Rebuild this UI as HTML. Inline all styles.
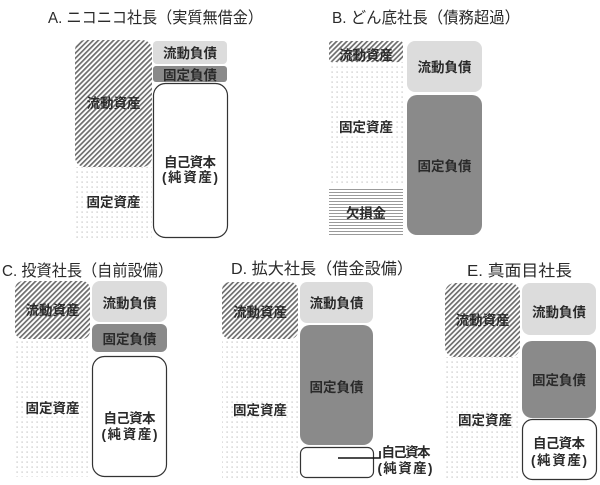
<!DOCTYPE html>
<html><head><meta charset="utf-8">
<style>
html,body{margin:0;padding:0;background:#fff;}
svg{display:block;}
text{font-family:"Liberation Sans","Noto Sans CJK JP",sans-serif;fill:#2a2a2a;}
.t{font-size:16px;}
.l{font-size:13.5px;font-weight:bold;text-anchor:middle;}
</style></head>
<body>
<svg width="600" height="485" viewBox="0 0 600 485" xmlns="http://www.w3.org/2000/svg">
<defs>
<pattern id="hatch" width="3.6" height="3.6" patternUnits="userSpaceOnUse" patternTransform="rotate(45)">
<rect width="3.6" height="3.6" fill="#fff"/>
<rect x="0" y="0" width="1.7" height="3.6" fill="#6e6e6e"/>
</pattern>
<pattern id="dots" width="5" height="5" patternUnits="userSpaceOnUse">
<rect width="5" height="5" fill="#fff"/>
<rect x="1.5" y="1.5" width="1.2" height="1.2" fill="#bdbdbd"/>
</pattern>
<pattern id="hl" width="3" height="3" patternUnits="userSpaceOnUse">
<rect width="3" height="3" fill="#fff"/>
<rect x="0" y="0" width="3" height="1" fill="#9a9a9a"/>
</pattern>
</defs>

<!-- Panel A -->
<text class="t" x="48" y="23" textLength="215" lengthAdjust="spacingAndGlyphs">A. ニコニコ社長（実質無借金）</text>
<rect x="75" y="167" width="77" height="71" fill="url(#dots)"/>
<rect x="75" y="40" width="77" height="127" rx="10" fill="url(#hatch)"/>
<rect x="153" y="41" width="74" height="23" rx="4" fill="#dcdcdc"/>
<rect x="153" y="66" width="74" height="16" rx="3" fill="#8a8a8a"/>
<rect x="153.5" y="83.5" width="74" height="154" rx="12" fill="#fff" stroke="#333" stroke-width="1.2"/>
<text class="l" x="113.5" y="108" textLength="54">流動資産</text>
<text class="l" x="113.5" y="207" textLength="54">固定資産</text>
<text class="l" x="190" y="58" textLength="54">流動負債</text>
<text class="l" x="190" y="80" textLength="54">固定負債</text>
<text class="l" x="190" y="167" textLength="52">自己資本</text>
<text class="l" x="190" y="182" textLength="56">(純資産)</text>

<!-- Panel B -->
<text class="t" x="332" y="23" textLength="188" lengthAdjust="spacingAndGlyphs">B. どん底社長（債務超過）</text>
<rect x="329" y="62" width="74" height="123" fill="url(#dots)"/>
<rect x="329" y="41" width="74" height="21" rx="3" fill="url(#hatch)"/>
<rect x="329" y="187" width="74" height="50" fill="url(#hl)"/>
<rect x="407" y="41" width="75" height="51" rx="8" fill="#dcdcdc"/>
<rect x="407" y="95" width="75" height="140" rx="10" fill="#8a8a8a"/>
<text class="l" x="366" y="60" textLength="54">流動資産</text>
<text class="l" x="366" y="132" textLength="54">固定資産</text>
<text class="l" x="366" y="218" textLength="40">欠損金</text>
<text class="l" x="444.5" y="72" textLength="54">流動負債</text>
<text class="l" x="444.5" y="171" textLength="54">固定負債</text>

<!-- Panel C -->
<text class="t" x="2" y="276" textLength="171" lengthAdjust="spacingAndGlyphs">C. 投資社長（自前設備）</text>
<rect x="15" y="339" width="75" height="138" fill="url(#dots)"/>
<rect x="15" y="281" width="75" height="58" rx="8" fill="url(#hatch)"/>
<rect x="92" y="281" width="75" height="41" rx="8" fill="#dcdcdc"/>
<rect x="92" y="324" width="75" height="28" rx="6" fill="#8a8a8a"/>
<rect x="92.5" y="356.5" width="74" height="120" rx="12" fill="#fff" stroke="#333" stroke-width="1.2"/>
<text class="l" x="52.5" y="315" textLength="54">流動資産</text>
<text class="l" x="52.5" y="413" textLength="54">固定資産</text>
<text class="l" x="129.5" y="308" textLength="54">流動負債</text>
<text class="l" x="129.5" y="344" textLength="54">固定負債</text>
<text class="l" x="129.5" y="423" textLength="52">自己資本</text>
<text class="l" x="129.5" y="439" textLength="56">(純資産)</text>

<!-- Panel D -->
<text class="t" x="231" y="274" textLength="182" lengthAdjust="spacingAndGlyphs">D. 拡大社長（借金設備）</text>
<rect x="222" y="339" width="76" height="139" fill="url(#dots)"/>
<rect x="222" y="282" width="76" height="57" rx="8" fill="url(#hatch)"/>
<rect x="300" y="282" width="73" height="41" rx="7" fill="#dcdcdc"/>
<rect x="300" y="325" width="73" height="120" rx="10" fill="#8a8a8a"/>
<rect x="300.5" y="447.5" width="73" height="30" rx="6" fill="#fff" stroke="#333" stroke-width="1.2"/>
<polyline points="338,458 380,458 380,451" fill="none" stroke="#111" stroke-width="1.6"/>
<text class="l" x="260" y="317" textLength="54">流動資産</text>
<text class="l" x="260" y="415" textLength="54">固定資産</text>
<text class="l" x="336.5" y="308" textLength="54">流動負債</text>
<text class="l" x="336.5" y="392" textLength="54">固定負債</text>
<text class="l" x="406" y="457" textLength="49">自己資本</text>
<text class="l" x="405" y="473" textLength="55">(純資産)</text>

<!-- Panel E -->
<text class="t" x="467" y="276" textLength="105" lengthAdjust="spacingAndGlyphs">E. 真面目社長</text>
<rect x="445" y="357" width="75" height="122" fill="url(#dots)"/>
<rect x="445" y="283" width="75" height="74" rx="10" fill="url(#hatch)"/>
<rect x="522" y="283" width="74" height="52" rx="8" fill="#dcdcdc"/>
<rect x="522" y="341" width="74" height="77" rx="10" fill="#8a8a8a"/>
<rect x="522.5" y="419.5" width="74" height="60" rx="10" fill="#fff" stroke="#333" stroke-width="1.2"/>
<text class="l" x="482.5" y="325" textLength="54">流動資産</text>
<text class="l" x="485" y="425" textLength="54">固定資産</text>
<text class="l" x="559" y="317" textLength="54">流動負債</text>
<text class="l" x="559" y="385" textLength="54">固定負債</text>
<text class="l" x="559" y="448" textLength="52">自己資本</text>
<text class="l" x="559" y="465" textLength="56">(純資産)</text>
</svg>
</body></html>
